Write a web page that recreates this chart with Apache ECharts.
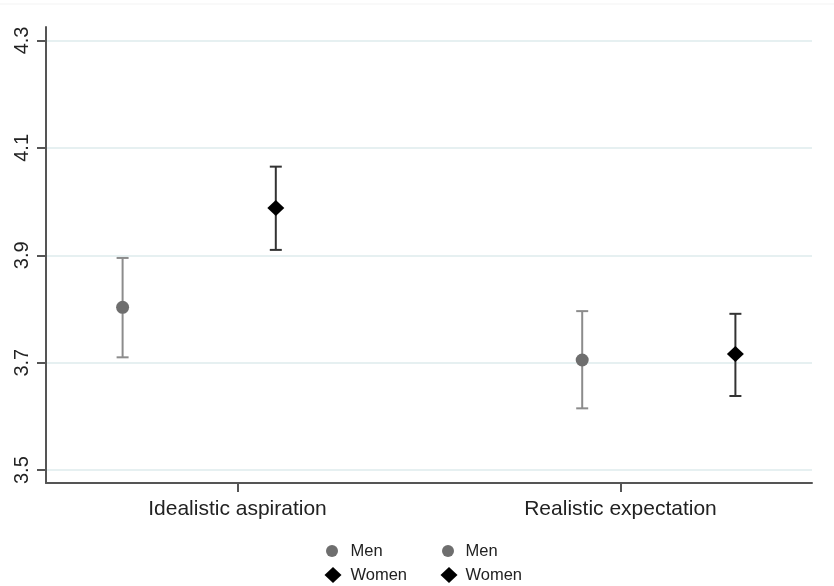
<!DOCTYPE html>
<html>
<head>
<meta charset="utf-8">
<script src="https://cdn.jsdelivr.net/npm/echarts@6/dist/echarts.min.js"></script>
<style>html,body{margin:0;padding:0;background:#fff}#c{width:834px;height:586px}</style>
</head>
<body>
<div id="c"></div>
<script>
// ---- data ----
var categories = ['Idealistic aspiration', 'Realistic expectation'];
var categoryPos = [25, 75];
var menX = [10, 70];
var womenX = [30, 90];
var menMean = [3.803, 3.705];
var menLow = [3.710, 3.615];
var menHigh = [3.895, 3.796];
var womenMean = [3.988, 3.716];
var womenLow = [3.910, 3.638];
var womenHigh = [4.065, 3.791];
var yTicks = [3.5, 3.7, 3.9, 4.1, 4.3];

var FONT = '"Liberation Sans", Arial, sans-serif';
var chart = echarts.init(document.getElementById('c'));

function pts(xs, ys) { return xs.map(function (x, i) { return [x, ys[i]]; }); }
function ci(xs, lo, hi) { return xs.map(function (x, i) { return [x, lo[i], hi[i]]; }); }

function errRender(color) {
  return function (params, api) {
    var x = api.value(0);
    var a = api.coord([x, api.value(1)]);
    var b = api.coord([x, api.value(2)]);
    var hw = 6;
    var st = { stroke: color, lineWidth: 2 };
    return {
      type: 'group',
      children: [
        { type: 'line', shape: { x1: a[0], y1: a[1], x2: b[0], y2: b[1] }, style: st },
        { type: 'line', shape: { x1: a[0] - hw, y1: a[1], x2: a[0] + hw, y2: a[1] }, style: st },
        { type: 'line', shape: { x1: b[0] - hw, y1: b[1], x2: b[0] + hw, y2: b[1] }, style: st }
      ]
    };
  };
}

function mkLegend(name, icon, iconCenterX, textX, centerY, w, h) {
  var left = iconCenterX - w / 2;
  var pad = textX - (left + w + 5);
  return {
    orient: 'horizontal',
    padding: 0,
    left: left, top: centerY - 9,
    itemWidth: w, itemHeight: h,
    symbolKeepAspect: true,
    textStyle: { fontFamily: FONT, fontSize: 16.5, color: '#222', padding: [0, 0, 0, pad], lineHeight: 18 },
    data: [{ name: name, icon: icon }],
    selectedMode: false
  };
}

chart.setOption({
  animation: false,
  backgroundColor: '#fff',
  graphic: [{ type: 'line', shape: { x1: 0, y1: 4, x2: 834, y2: 4 }, style: { stroke: '#f3f3f3', lineWidth: 1 }, silent: true }],
  grid: { left: 46, right: 22, top: 27, bottom: 103 },
  legend: [
    mkLegend('Men', 'circle', 332, 350.5, 551, 12, 12),
    mkLegend('Women', 'diamond', 333, 350.5, 575, 17, 16),
    mkLegend('Men', 'circle', 448, 465.5, 551, 12, 12),
    mkLegend('Women', 'diamond', 449, 465.5, 575, 17, 16)
  ],
  xAxis: {
    type: 'value', min: 0, max: 100,
    axisLine: { show: true, lineStyle: { color: '#555', width: 2 } },
    axisTick: { show: true, length: 9, customValues: categoryPos, lineStyle: { color: '#555', width: 2 } },
    axisLabel: {
      customValues: categoryPos, margin: 16,
      fontFamily: FONT, fontSize: 21, color: '#222',
      formatter: function (v) { var i = categoryPos.indexOf(v); return i >= 0 ? categories[i] : ''; }
    },
    splitLine: { show: false }
  },
  yAxis: {
    type: 'value', min: 3.476, max: 4.325,
    axisLine: { show: true, lineStyle: { color: '#555', width: 2 } },
    axisTick: { show: true, length: 9, customValues: yTicks, lineStyle: { color: '#555', width: 2 } },
    axisLabel: {
      customValues: yTicks, rotate: 90, margin: 14,
      fontFamily: FONT, fontSize: 20, color: '#222',
      formatter: function (v) { return v.toFixed(1); }
    },
    splitLine: { show: false }
  },
  series: [
    {
      type: 'line', data: [], silent: true, name: 'grid', z: 0,
      markLine: {
        silent: true, symbol: 'none', label: { show: false }, z: 0,
        lineStyle: { color: '#e6f0f1', width: 2, type: 'solid' },
        data: yTicks.map(function (v) { return { yAxis: v }; })
      }
    },
    { type: 'custom', name: 'menCI', data: ci(menX, menLow, menHigh), renderItem: errRender('#8c8c8c'), silent: true, z: 5 },
    { type: 'custom', name: 'womenCI', data: ci(womenX, womenLow, womenHigh), renderItem: errRender('#333333'), silent: true, z: 5 },
    { type: 'scatter', name: 'Men', data: pts(menX, menMean), symbol: 'circle', symbolSize: 13, itemStyle: { color: '#6e6e6e', opacity: 1 }, z: 10 },
    { type: 'scatter', name: 'Women', data: pts(womenX, womenMean), symbol: 'diamond', symbolSize: [17, 16], itemStyle: { color: '#000', opacity: 1 }, z: 10 }
  ]
});
</script>
</body>
</html>
